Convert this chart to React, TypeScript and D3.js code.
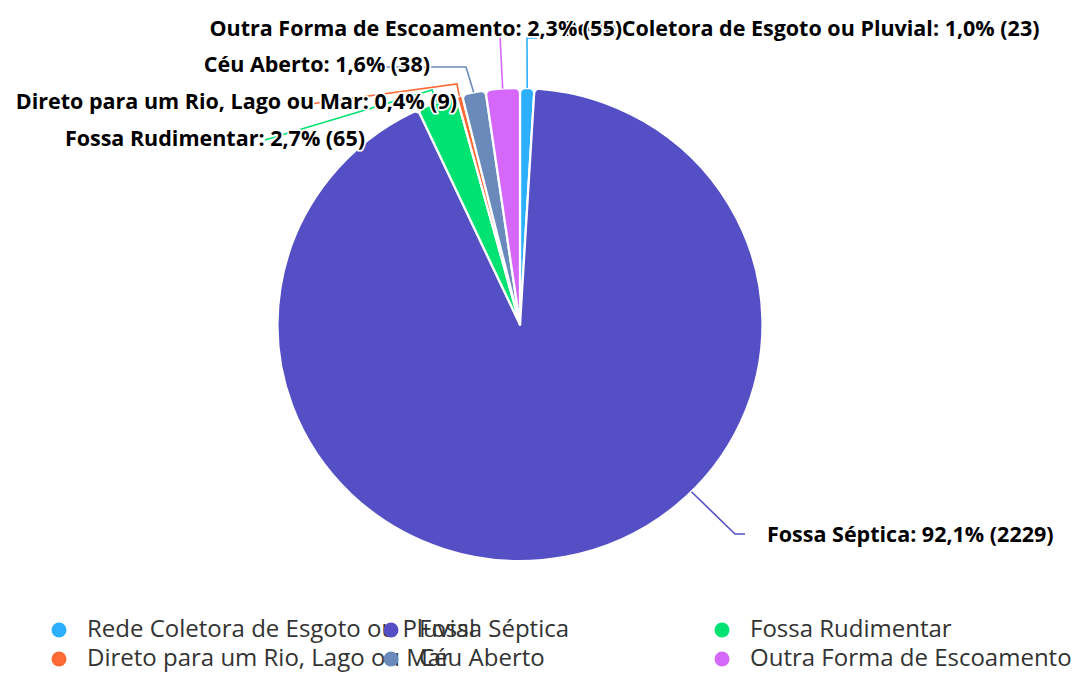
import React from "react";
import * as d3 from "d3";

const categories = [
  "Rede Coletora de Esgoto ou Pluvial",
  "Fossa Séptica",
  "Fossa Rudimentar",
  "Direto para um Rio, Lago ou Mar",
  "Céu Aberto",
  "Outra Forma de Escoamento",
];
const values = [23, 2229, 65, 9, 38, 55];
const colors = ["#2caffe", "#544fc5", "#00e272", "#fe6a35", "#6b8abc", "#d568fb"];

// label layout (positions only)
const labelLayout = [
  { anchor: "start", x: 563, y: 28, path: [[527, 38], [537, 38]], angle: null },
  { anchor: "start", x: 767, y: 534, path: [[735, 534], [745, 534]], angle: 135 },
  { anchor: "end", x: 365, y: 138, path: [[432, 90], [265, 140]], angle: null },
  { anchor: "end", x: 457, y: 101, path: [[457, 84], [310, 104]], angle: null },
  { anchor: "end", x: 430, y: 64, path: [[466, 67], [380, 67]], angle: null },
  { anchor: "end", x: 622, y: 28, path: [[500, 36]], angle: null },
];

const legendCols = [59, 391, 722];
const legendRows = [629, 658];

const W = 1077;
const H = 673;
const cx = 520;
const cy = 324.5;
const ry = 236.5;
const rx = 242.5;

export default function App() {
  const total = d3.sum(values);
  const pie = d3.pie<number>().sort(null).value((d) => d);
  const arcs = pie(values);
  const arc = d3.arc<d3.PieArcDatum<number>>().innerRadius(0).outerRadius(ry).cornerRadius(5);
  const pct = (v: number) => d3.format(".1f")((v / total) * 100).replace(".", ",") + "%";
  const sx = rx / ry;

  return (
    <svg width={W} height={H} style={{ position: "absolute", left: 0, top: 0, background: "#fff" }}>
      <g transform={`translate(${cx},${cy}) scale(${sx},1)`}>
        {arcs.map((a, i) => (
          <path key={i} d={arc(a) || ""} fill={colors[i]} stroke="#fff" strokeWidth={2.2} strokeLinejoin="round" />
        ))}
      </g>
      {arcs.map((a, i) => {
        const L = labelLayout[i];
        const ang = L.angle != null ? (L.angle * Math.PI) / 180 : (a.startAngle + a.endAngle) / 2;
        const ex = cx + rx * Math.sin(ang);
        const ey = cy - ry * Math.cos(ang);
        const pts: [number, number][] = [[ex, ey], ...(L.path as [number, number][])];
        return (
          <path key={"c" + i} d={d3.line()(pts) || ""} fill="none" stroke={colors[i]} strokeWidth={1.6} />
        );
      })}
      {arcs.map((a, i) => {
        const L = labelLayout[i];
        return (
          <text
            key={"t" + i}
            x={L.x}
            y={L.y}
            dy="0.35em"
            textAnchor={L.anchor as any}
            fontFamily="'Open Sans', 'Noto Sans', sans-serif"
            fontWeight="bold"
            fontSize={21.5}
            fill="#000"
            stroke="#fff"
            strokeWidth={3.5}
            strokeLinejoin="round"
            paintOrder="stroke"
          >
            {`${categories[i]}: ${pct(values[i])} (${values[i]})`}
          </text>
        );
      })}
      {categories.map((c, i) => {
        const col = i % 3;
        const row = Math.floor(i / 3);
        const x = legendCols[col];
        const y = legendRows[row];
        return (
          <g key={"l" + i}>
            <circle cx={x} cy={y + 1} r={7.5} fill={colors[i]} />
            <text
              x={x + 28}
              y={y}
              dy="0.35em"
              fontFamily="'Open Sans', 'Noto Sans', sans-serif"
              fontSize={24}
              fill="#333"
            >
              {c}
            </text>
          </g>
        );
      })}
    </svg>
  );
}
